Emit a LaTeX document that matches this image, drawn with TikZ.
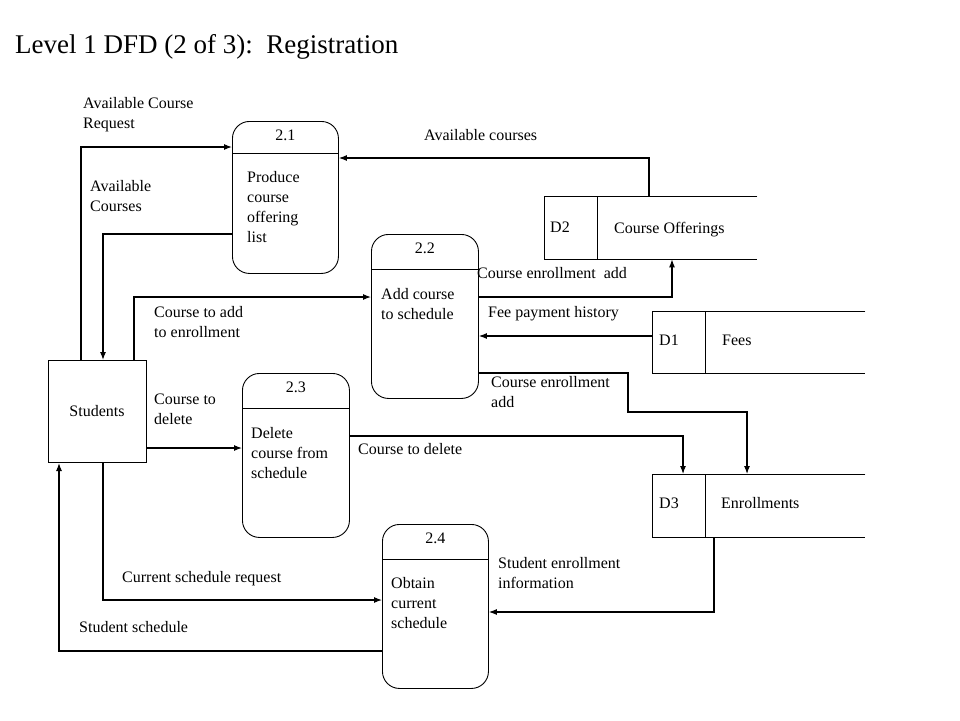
\documentclass[tikz,border=0pt]{standalone}
\usepackage{fontspec}
\setmainfont{Liberation Serif}
\usetikzlibrary{arrows.meta}
\begin{document}
\begin{tikzpicture}[x=1pt, y=-1pt,
    proc/.style={draw, line width=0.9pt, rounded corners=17pt, inner sep=0pt, anchor=north west},
    ent/.style={draw, line width=1pt, inner sep=0pt, anchor=north west},
    store/.style={inner sep=0pt, anchor=north west, minimum width=213pt},
    lbl/.style={inner sep=0pt, align=left, anchor=base west, font=\fontsize{16}{19.8}\selectfont},
    flow/.style={line width=1.1pt, -{Latex[length=8pt, width=6pt]}}]
    \useasboundingbox (0, 0) rectangle (960, 720);

    \node[lbl, font=\fontsize{27}{30}\selectfont] (title) at (15, 53) {Level 1 DFD (2 of 3):\ \ Registration};

    % processes
    \node[proc, minimum width=106pt, minimum height=152pt] (p21) at (232, 121) {};
    \node[proc, minimum width=107pt, minimum height=164pt] (p22) at (371, 234) {};
    \node[proc, minimum width=107pt, minimum height=164pt] (p23) at (242, 373) {};
    \node[proc, minimum width=106pt, minimum height=164pt] (p24) at (382, 524) {};
    \draw[line width=0.9pt] ([yshift=-32pt]p21.north west) -- ([yshift=-32pt]p21.north east);
    \draw[line width=0.9pt] ([yshift=-35pt]p22.north west) -- ([yshift=-35pt]p22.north east);
    \draw[line width=0.9pt] ([yshift=-35pt]p23.north west) -- ([yshift=-35pt]p23.north east);
    \draw[line width=0.9pt] ([yshift=-35pt]p24.north west) -- ([yshift=-35pt]p24.north east);

    \node[lbl, anchor=base] (n21) at ([yshift=-19pt]p21.north) {2.1};
    \node[lbl, anchor=base] (n22) at ([yshift=-19pt]p22.north) {2.2};
    \node[lbl, anchor=base] (n23) at ([yshift=-19pt]p23.north) {2.3};
    \node[lbl, anchor=base] (n24) at ([yshift=-19pt]p24.north) {2.4};
    \node[lbl] (t21) at ([xshift=15pt, yshift=-121pt]p21.north west) {Produce\\course\\offering\\list};
    \node[lbl] (t22) at ([xshift=10pt, yshift=-85pt]p22.north west) {Add course\\to schedule};
    \node[lbl] (t23) at ([xshift=9pt, yshift=-105pt]p23.north west) {Delete\\course from\\schedule};
    \node[lbl] (t24) at ([xshift=9pt, yshift=-104pt]p24.north west) {Obtain\\current\\schedule};

    % external entity
    \node[ent, minimum width=98pt, minimum height=102pt] (stud) at (48, 360) {};
    \node[lbl, anchor=base] (tstud) at (97, 416) {Students};

    % data stores
    \node[store, minimum height=63pt] (d2) at (544, 196) {};
    \node[store, minimum height=62pt] (d1) at (652, 311) {};
    \node[store, minimum height=63pt] (d3) at (652, 474) {};
    \foreach \s in {d2, d1, d3} {
        \draw[line width=1pt] (\s.north east) -- (\s.north west) -- (\s.south west) -- (\s.south east);
        \draw[line width=1pt] ([xshift=53pt]\s.north west) -- ([xshift=53pt]\s.south west);
    }
    \node[lbl] (id2) at ([xshift=6pt, yshift=-36pt]d2.north west) {D2};
    \node[lbl] (nd2) at ([xshift=70pt, yshift=-37pt]d2.north west) {Course Offerings};
    \node[lbl] (id1) at ([xshift=7pt, yshift=-34pt]d1.north west) {D1};
    \node[lbl] (nd1) at ([xshift=70pt, yshift=-34pt]d1.north west) {Fees};
    \node[lbl] (id3) at ([xshift=7pt, yshift=-34pt]d3.north west) {D3};
    \node[lbl] (nd3) at ([xshift=69pt, yshift=-34pt]d3.north west) {Enrollments};

    % data flows
    \draw[flow] ([xshift=33pt]stud.north west) |- ([yshift=-26pt]p21.north west);
    \node[lbl] (f1) at (83, 128) {Available Course\\Request};

    \draw[flow] ([yshift=-113pt]p21.north west) -| ([xshift=55pt]stud.north west);
    \node[lbl] (f2) at (90, 211) {Available\\Courses};

    \draw[flow] ([xshift=105pt]d2.north west) |- ([yshift=-37pt]p21.north east);
    \node[lbl] (f3) at (424, 140) {Available courses};

    \draw[flow] ([xshift=86pt]stud.north west) |- ([yshift=-63pt]p22.north west);
    \node[lbl] (f4) at (154, 337) {Course to add\\to enrollment};

    \draw[flow] ([yshift=-63pt]p22.north east) -| ([xshift=128pt]d2.south west);
    \node[lbl] (f5) at (477, 278) {Course enrollment\ \ add};

    \coordinate (fee) at ([yshift=-25pt]d1.north west);
    \draw[flow] (fee) -- (fee -| p22.east);
    \node[lbl] (f6) at (488, 317) {Fee payment history};

    \coordinate (bend) at (628, 412);
    \draw[flow] ([yshift=-139pt]p22.north east) -| (bend) -| ([xshift=95pt]d3.north west);
    \node[lbl] (f7) at (491, 407) {Course enrollment\\add};

    \coordinate (del) at ([yshift=-88pt]stud.north east);
    \draw[flow] (del) -- (del -| p23.west);
    \node[lbl] (f8) at (154, 424) {Course to\\delete};

    \draw[flow] ([yshift=-63pt]p23.north east) -| ([xshift=31pt]d3.north west);
    \node[lbl] (f9) at (358, 454) {Course to delete};

    \draw[flow] ([xshift=55pt]stud.south west) |- ([yshift=-76pt]p24.north west);
    \node[lbl] (f10) at (122, 582) {Current schedule request};

    \draw[flow] ([yshift=-127pt]p24.north west) -| ([xshift=11pt]stud.south west);
    \node[lbl] (f11) at (79, 632) {Student schedule};

    \draw[flow] ([xshift=62pt]d3.south west) |- ([yshift=-88pt]p24.north east);
    \node[lbl] (f12) at (498, 588) {Student enrollment\\information};
\end{tikzpicture}
\end{document}
